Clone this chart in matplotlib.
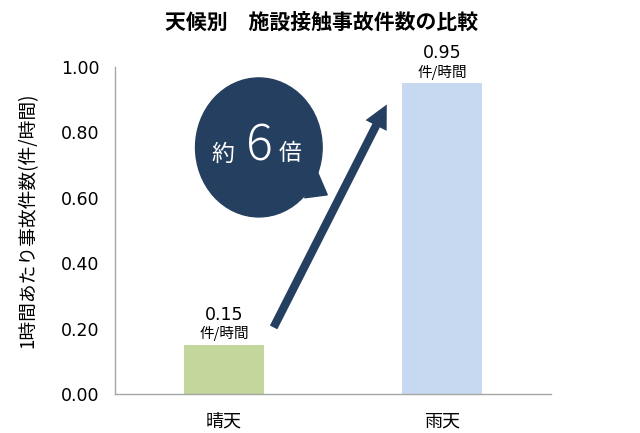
import matplotlib
matplotlib.use("Agg")
import matplotlib.pyplot as plt
from matplotlib.patches import Ellipse, Polygon, FancyArrowPatch

plt.rcParams['font.family'] = ['Noto Sans CJK JP', 'DejaVu Sans']

# data
categories = ['晴天', '雨天']
values = [0.15, 0.95]
unit = '件/時間'
bar_colors = ['#C3D69B', '#C6D9F1']
yticks = [0.0, 0.2, 0.4, 0.6, 0.8, 1.0]
title = '天候別　施設接触事故件数の比較'
ylabel = '1時間あたり事故件数(件/時間)'
navy = '#243F60'
num_font = ['DejaVu Sans']

fig = plt.figure(figsize=(6.4, 4.33), dpi=100)
ax = fig.add_axes([0.1797, 0.0901, 0.681, 0.7552])

x = list(range(len(categories)))
ax.bar(x, values, width=0.366, color=bar_colors)
ax.set_xlim(-0.5, 1.5)
ax.set_ylim(0, 1.0)
ax.set_xticks(x)
ax.set_xticklabels(categories, fontsize=13)
ax.set_yticks(yticks)
ax.set_yticklabels([f'{t:.2f}' for t in yticks], fontsize=12.5, family=num_font)
ax.tick_params(length=0)
ax.tick_params(axis='y', pad=11)
ax.tick_params(axis='x', pad=13)

for s in ['top', 'right']:
    ax.spines[s].set_visible(False)
for s in ['left', 'bottom']:
    ax.spines[s].set_color('#A6A6A6')
    ax.spines[s].set_linewidth(1)

ax.set_ylabel(ylabel, fontsize=13.5)
ax.yaxis.set_label_coords(-0.175, 0.53)

# value labels
for xi, v in zip(x, values):
    ax.annotate(f'{v:.2f}', (xi, v), xytext=(0, 21.5), textcoords='offset points',
                ha='center', va='center', fontsize=12.5, family=num_font)
    ax.annotate(unit, (xi, v), xytext=(0, 8), textcoords='offset points',
                ha='center', va='center', fontsize=10.5)

# arrow from small bar to large bar
arrow = FancyArrowPatch((0.222, 0.196), (0.753, 0.893),
                        arrowstyle='simple,head_length=1.7,head_width=1.7,tail_width=0.6',
                        mutation_scale=10, color=navy, lw=0, zorder=4)
ax.add_patch(arrow)

# speech bubble
ax.add_patch(Ellipse((0.160, 0.754), 0.581, 0.425, color=navy, zorder=5))
ax.add_patch(Polygon([(0.425, 0.685), (0.474, 0.609), (0.37, 0.60)],
                     closed=True, color=navy, zorder=5))
ax.text(-0.007, 0.734, '約', color='white', fontsize=16.5, ha='center', va='center', zorder=6)
ax.text(0.162, 0.757, '6', color='white', fontsize=36, fontweight='light',
        ha='center', va='center', zorder=6)
ax.text(0.304, 0.734, '倍', color='white', fontsize=16.5, ha='center', va='center', zorder=6)

fig.text(322 / 640, 1 - 22 / 433, title, ha='center', va='center',
         fontsize=15, fontweight='bold')

fig.savefig('out.png', dpi=100)
